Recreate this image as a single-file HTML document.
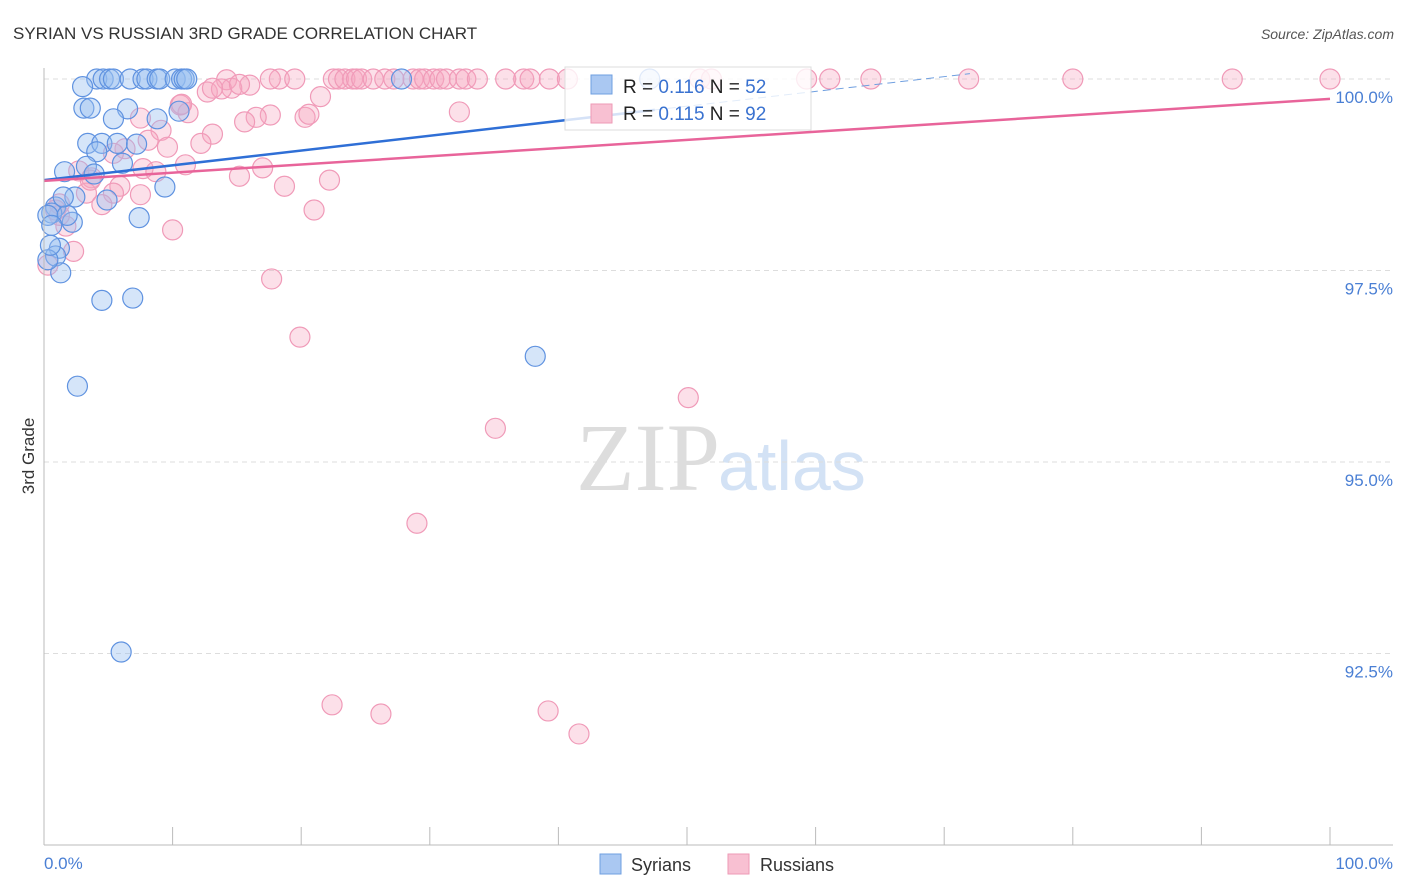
<!DOCTYPE html><html><head><meta charset="utf-8"><style>
body{margin:0;background:#fff;font-family:"Liberation Sans",sans-serif}
svg{display:block}
</style></head><body>
<svg id="c" width="1406" height="892" xmlns="http://www.w3.org/2000/svg">
<text x="13" y="39" font-size="17" fill="#333">SYRIAN VS RUSSIAN 3RD GRADE CORRELATION CHART</text>
<text x="1394" y="39" font-size="14" fill="#555" font-style="italic" text-anchor="end">Source: ZipAtlas.com</text>
<text x="720" y="490" font-size="96" fill="#ddd" font-family="Liberation Serif,serif" text-anchor="end">ZIP</text>
<text x="718" y="490" font-size="70" fill="#d3e2f5">atlas</text>
<text x="34" y="456" font-size="17" fill="#333" transform="rotate(-90 34 456)" text-anchor="middle">3rd Grade</text>
<g id="grid"></g><g id="pts"></g><g id="lines"></g>
<line x1="44" y1="68" x2="44" y2="845" stroke="#bbb"/>
<line x1="44" y1="845" x2="1393" y2="845" stroke="#bbb"/>
<text x="44" y="869" font-size="17" fill="#4a7fd4">0.0%</text>
<text x="1393" y="869" font-size="17" fill="#4a7fd4" text-anchor="end">100.0%</text>
<g>
<rect x="565" y="67" width="246" height="63" fill="rgba(255,255,255,0.8)" stroke="#ddd"/>
<rect x="591" y="75" width="21" height="19" fill="#aac8f2" stroke="#6f9fe0"/>
<rect x="591" y="104" width="21" height="19" fill="#f8c0d2" stroke="#ee9ab6"/>
<text x="623" y="93" font-size="19" fill="#222">R = <tspan fill="#3a72d0">0.116</tspan>   N = <tspan fill="#3a72d0">52</tspan></text>
<text x="623" y="120" font-size="19" fill="#222">R = <tspan fill="#3a72d0">0.115</tspan>   N = <tspan fill="#3a72d0">92</tspan></text>
</g>
<g>
<rect x="600" y="854" width="21" height="20" fill="#aac8f2" stroke="#6f9fe0"/>
<text x="631" y="871" font-size="18" fill="#333">Syrians</text>
<rect x="728" y="854" width="21" height="20" fill="#f8c0d2" stroke="#ee9ab6"/>
<text x="760" y="871" font-size="18" fill="#333">Russians</text>
</g>
</svg>
<script>
const yTicks=[100,97.5,95,92.5];
const yTickLabels=["100.0%","97.5%","95.0%","92.5%"];
const syrX=[4.1,4.6,5.1,5.4,6.7,7.7,8.0,8.8,9.0,10.2,10.7,10.9,11.1,27.8,47.1,3.0,3.1,3.6,6.5,5.4,8.8,10.5,3.4,4.5,5.7,7.2,4.1,6.1,3.3,1.6,3.9,9.4,2.4,4.9,7.4,2.2,0.9,0.6,0.3,1.8,0.6,1.2,0.9,1.3,4.5,6.9,2.6,38.2,6.0,0.3,0.5,1.5];
const syrY=[100,100,100,100,100,100,100,100,100,100,100,100,100,100,100,99.9,99.62,99.62,99.61,99.48,99.48,99.58,99.16,99.16,99.16,99.15,99.05,98.9,98.86,98.79,98.76,98.59,98.46,98.42,98.19,98.13,98.33,98.25,98.22,98.22,98.09,97.79,97.69,97.47,97.11,97.14,95.99,96.38,92.52,97.64,97.83,98.46];
const rusX=[18.3,19.5,22.5,22.9,23.4,24.0,24.3,24.7,25.6,26.5,27.2,28.7,29.2,29.6,30.3,30.8,31.3,32.3,32.8,33.7,35.9,37.3,37.8,39.3,40.7,51.0,51.9,59.3,61.1,64.3,71.9,80.0,92.4,100,17.6,14.2,16.0,14.6,12.7,13.8,21.5,10.6,32.3,11.2,17.6,16.5,15.6,20.3,20.6,9.1,13.1,8.1,9.6,12.2,6.3,5.4,11.0,7.7,8.7,17.0,2.7,3.7,15.2,5.9,18.7,22.2,3.3,7.5,5.4,4.5,1.2,21.0,10.0,1.7,2.3,0.3,17.7,19.9,50.1,35.1,29.0,22.4,26.2,39.2,41.6,3.6,1.2,0.9,7.5,10.7,13.1,15.2];
const rusY=[100,100,100,100,100,100,100,100,100,100,100,100,100,100,100,100,100,100,100,100,100,100,100,100,100,100,100,100,100,100,100,100,100,100,100,99.99,99.92,99.88,99.83,99.87,99.77,99.66,99.57,99.56,99.53,99.5,99.44,99.5,99.54,99.33,99.28,99.2,99.11,99.16,99.09,99.03,98.88,98.83,98.79,98.84,98.8,98.71,98.73,98.6,98.6,98.68,98.51,98.49,98.51,98.36,98.37,98.29,98.03,98.08,97.75,97.57,97.39,96.63,95.84,95.44,94.2,91.83,91.71,91.75,91.45,98.68,98.22,98.29,99.49,99.67,99.88,99.93];
const syrLine=[98.68,0.0193];
const rusLine=[98.67,0.0107];
const NS="http://www.w3.org/2000/svg";
const X=v=>44+v*12.86, Y=v=>79+(100-v)*76.6;
function mk(t,a,p){const e=document.createElementNS(NS,t);for(const k in a)e.setAttribute(k,a[k]);p.appendChild(e);return e;}
const grid=document.getElementById('grid');
yTicks.forEach((t,i)=>{
 const l=mk('line',{x1:44,x2:1393,y1:Y(t),y2:Y(t),stroke:'#ddd','stroke-dasharray':'5,4'},grid);
 
 
 const tx=mk('text',{x:1393,y:Y(t)+24,'font-size':17,fill:'#4a7fd4','text-anchor':'end'},grid);
 tx.textContent=yTickLabels[i];
 
 
});
for(let i=1;i<=10;i++){
 const l=mk('line',{x1:X(i*10),x2:X(i*10),y1:827,y2:845,stroke:'#bbb'},grid);
 
 
}
const pts=document.getElementById('pts');
rusX.forEach((x,i)=>{
 const c=mk('circle',{cx:X(x),cy:Y(rusY[i]),r:10,fill:'rgba(245,165,192,0.35)',stroke:'#f09ab8','stroke-width':1.2},pts);
 
 
});
syrX.forEach((x,i)=>{
 const c=mk('circle',{cx:X(x),cy:Y(syrY[i]),r:10,fill:'rgba(150,190,240,0.4)',stroke:'#5f92e0','stroke-width':1.2},pts);
 
 
});
const ln=document.getElementById('lines');
let a=mk('line',{x1:X(0),y1:Y(syrLine[0]),x2:X(47.5),y2:Y(syrLine[0]+syrLine[1]*47.5),stroke:'#2f6fd6','stroke-width':2.5},ln);


a=mk('line',{x1:X(47.5),y1:Y(syrLine[0]+syrLine[1]*47.5),x2:X(72),y2:Y(syrLine[0]+syrLine[1]*72),stroke:'#6f9fe0','stroke-width':1,'stroke-dasharray':'8,5'},ln);


a=mk('line',{x1:X(0),y1:Y(rusLine[0]),x2:X(100),y2:Y(rusLine[0]+rusLine[1]*100),stroke:'#e8649a','stroke-width':2.5},ln);


</script>
</body></html>
